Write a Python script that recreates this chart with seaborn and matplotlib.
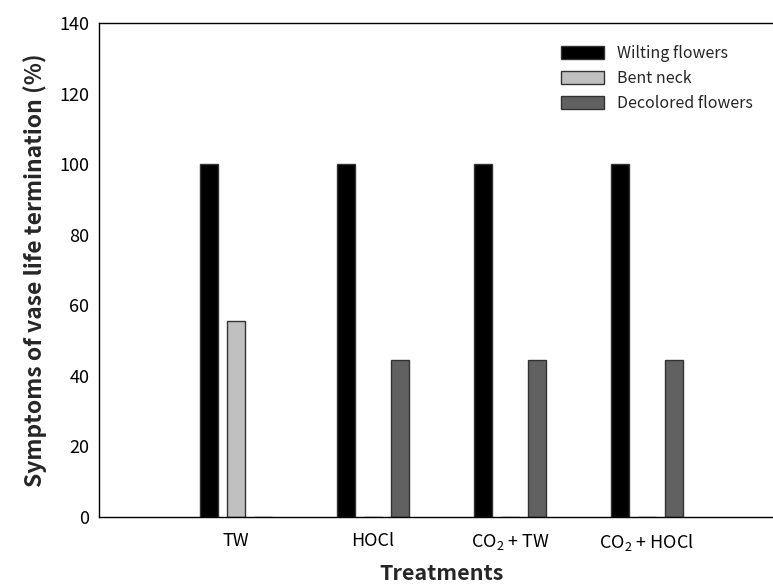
import matplotlib
matplotlib.use("Agg")
import matplotlib.pyplot as plt
import seaborn as sns
import pandas as pd

treatments = ["TW", "HOCl", "CO$_2$ + TW", "CO$_2$ + HOCl"]
symptoms = ["Wilting flowers", "Bent neck", "Decolored flowers"]
wilting = [100, 100, 100, 100]
bent_neck = [55.6, 0, 0, 0]
decolored = [0, 44.4, 44.4, 44.4]
colors = ["#000000", "#c0c0c0", "#616161"]

rows = []
for i, t in enumerate(treatments):
    for s, vals in zip(symptoms, [wilting, bent_neck, decolored]):
        rows.append({"Treatment": t, "Symptom": s, "Value": vals[i]})
df = pd.DataFrame(rows)

sns.set_theme(style="white")
plt.rcParams['font.family'] = ['Noto Sans CJK KR', 'DejaVu Sans']
plt.rcParams['mathtext.fontset'] = 'custom'
plt.rcParams['mathtext.rm'] = 'Noto Sans CJK KR'
plt.rcParams['mathtext.default'] = 'regular'

fig = plt.figure(figsize=(7.73, 5.87), dpi=100)
ax = fig.add_axes([99/773, 1-517/587, 685/773, (517-23)/587])

sns.barplot(data=df, x="Treatment", y="Value", hue="Symptom", order=treatments,
            hue_order=symptoms, palette=colors, width=0.59, gap=0.35,
            edgecolor="#333333", linewidth=1.0, ax=ax, legend=True)

ax.set_xlim(-1, 4)
ax.set_ylim(0, 140)
ax.set_yticks(range(0, 141, 20))
ax.tick_params(axis='both', direction='in', length=5, width=1, colors='black',
               labelsize=13, pad=7)
ax.tick_params(axis='x', pad=11)
ax.spines['right'].set_visible(False)
for sp in ['left', 'bottom', 'top']:
    ax.spines[sp].set_color('black')
    ax.spines[sp].set_linewidth(1.0)

ax.set_xlabel("Treatments", fontsize=15.5, fontweight='bold', labelpad=7)
ax.set_ylabel("Symptoms of vase life termination (%)", fontsize=16.5,
              fontweight='bold', labelpad=9)

leg = ax.legend(loc='upper left', bbox_to_anchor=(553/773, 1-37/587),
                bbox_transform=fig.transFigure, frameon=False, fontsize=11.5,
                handlelength=2.7, handleheight=0.9, labelspacing=0.5,
                handletextpad=0.8, borderpad=0)

fig.savefig("out.png", dpi=100)
